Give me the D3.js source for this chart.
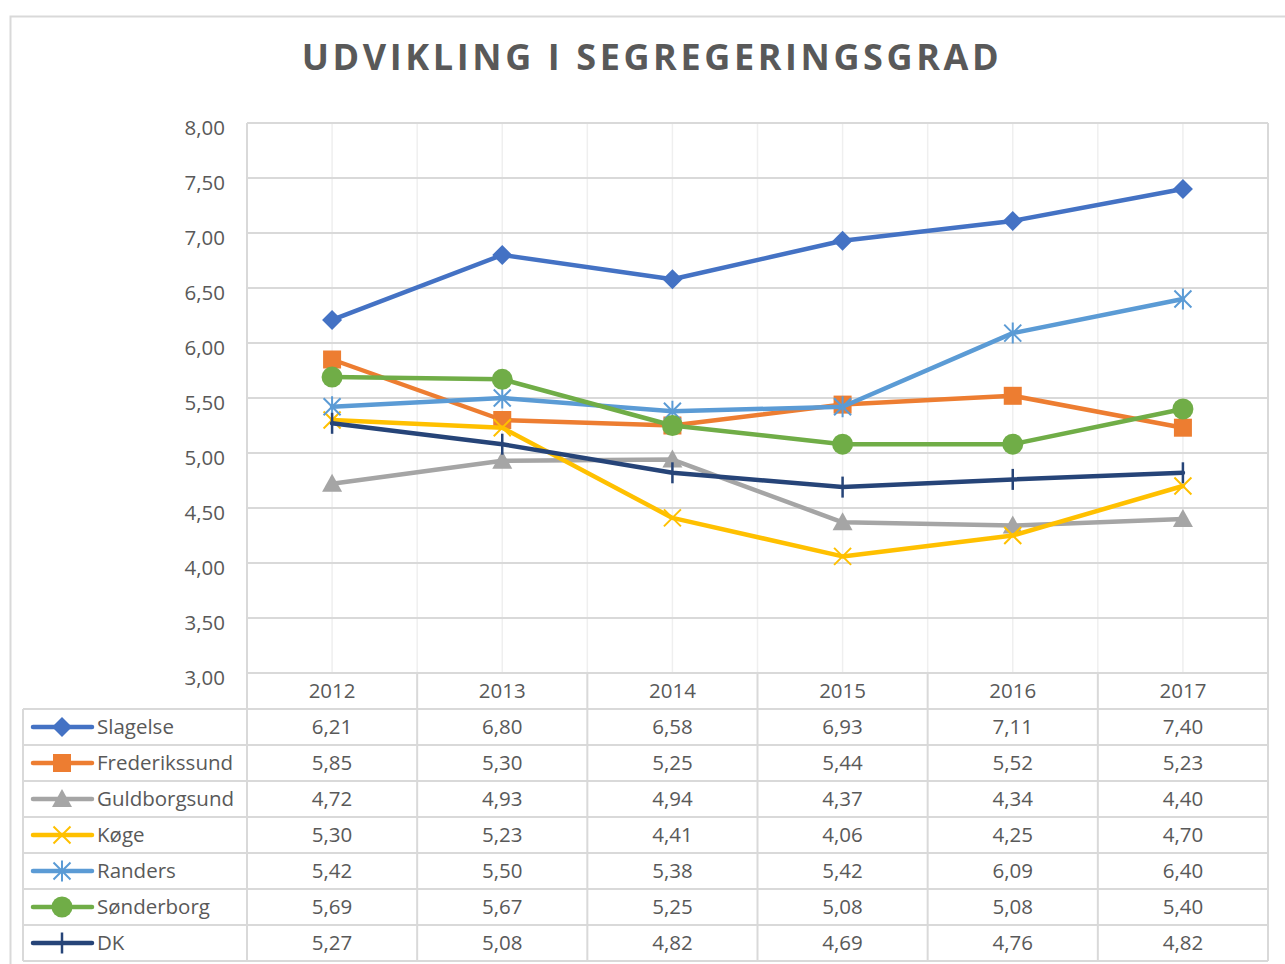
<!DOCTYPE html>
<html>
<head>
<meta charset="utf-8">
<script src="https://cdn.jsdelivr.net/npm/d3@7"></script>
<style>
	body { margin: 0; background: #fff; }
	svg { display: block; font-family: "Open Sans", sans-serif; }
</style>
</head>
<body>
<svg id="chart" width="1285" height="964"></svg>
<script>
// data
const years = ["2012", "2013", "2014", "2015", "2016", "2017"];
const names = ["Slagelse", "Frederikssund", "Guldborgsund", "Køge", "Randers", "Sønderborg", "DK"];
const slagelse = [6.21, 6.80, 6.58, 6.93, 7.11, 7.40];
const frederikssund = [5.85, 5.30, 5.25, 5.44, 5.52, 5.23];
const guldborgsund = [4.72, 4.93, 4.94, 4.37, 4.34, 4.40];
const koege = [5.30, 5.23, 4.41, 4.06, 4.25, 4.70];
const randers = [5.42, 5.50, 5.38, 5.42, 6.09, 6.40];
const soenderborg = [5.69, 5.67, 5.25, 5.08, 5.08, 5.40];
const dk = [5.27, 5.08, 4.82, 4.69, 4.76, 4.82];
const yTicks = [3, 3.5, 4, 4.5, 5, 5.5, 6, 6.5, 7, 7.5, 8];

const colors = ["#4472C4", "#ED7D31", "#A5A5A5", "#FFC000", "#5B9BD5", "#70AD47", "#264478"];
const shapes = ["diamond", "square", "triangle", "x", "star", "circle", "plus"];

const series = [slagelse, frederikssund, guldborgsund, koege, randers, soenderborg, dk]
	.map((values, i) => ({ name: names[i], values: values, color: colors[i], shape: shapes[i] }));

// danish number format
const locale = d3.formatLocale({ decimal: ",", thousands: ".", grouping: [3], currency: ["", " kr"] });
const fmt = locale.format(".2f");

// plot area
const plot = { left: 247, right: 1268, top: 123, bottom: 673 };
const rowH = 36;
const tableLeft = 23;
const textColor = "#595959";
const gridColor = "#d9d9d9";
const fontSize = 20.5;

const svg = d3.select("#chart");

// outer chart border
svg.append("rect")
.attr("x", 10.5)
.attr("y", 16.5)
.attr("width", 1300)
.attr("height", 1000)
.attr("fill", "#fff")
.attr("stroke", gridColor)
.attr("stroke-width", 2);

// title
svg.append("text")
.attr("x", 652)
.attr("y", 70)
.attr("text-anchor", "middle")
.attr("font-size", 36)
.attr("font-weight", "bold")
.attr("letter-spacing", 3.6)
.attr("fill", textColor)
.text("UDVIKLING I SEGREGERINGSGRAD");

const x = d3.scaleBand()
.domain(years)
.range([plot.left, plot.right])
.padding(0);

const cx = d => x(d) + x.bandwidth() / 2;

const y = d3.scaleLinear()
.domain([3, 8])
.range([plot.bottom, plot.top]);

// light vertical gridlines at category centres and boundaries
const vLines = [];
years.forEach(d => {
	vLines.push(cx(d));
	if (d !== years[0]) vLines.push(x(d));
});
svg.append("g")
.selectAll("line")
.data(vLines)
.enter()
.append("line")
.attr("x1", d => d)
.attr("x2", d => d)
.attr("y1", plot.top)
.attr("y2", plot.bottom)
.attr("stroke", "#efefef")
.attr("stroke-width", 1.5);

// horizontal gridlines
svg.append("g")
.selectAll("line")
.data(yTicks)
.enter()
.append("line")
.attr("x1", plot.left)
.attr("x2", plot.right)
.attr("y1", d => y(d))
.attr("y2", d => y(d))
.attr("stroke", gridColor)
.attr("stroke-width", 2);

// y axis labels
const yAxis = svg.append("g")
.attr("transform", "translate(" + plot.left + ",0)")
.call(d3.axisLeft(y).tickValues(yTicks).tickFormat(fmt).tickSize(0).tickPadding(22));
yAxis.select(".domain").remove();
yAxis.selectAll("text")
.attr("font-size", fontSize)
.attr("font-family", "Open Sans, sans-serif")
.attr("fill", textColor)
.attr("dy", "0.58em");

// plot left / right border
svg.append("g")
.selectAll("line")
.data([plot.left, plot.right])
.enter()
.append("line")
.attr("x1", d => d)
.attr("x2", d => d)
.attr("y1", plot.top)
.attr("y2", plot.bottom)
.attr("stroke", gridColor)
.attr("stroke-width", 2);

// data table
const tableBottom = plot.bottom + rowH * (series.length + 1);
const table = svg.append("g");

// horizontal rule lines of table
const rowLines = d3.range(1, series.length + 2).map(i => plot.bottom + rowH * i);
table.selectAll(".hrow")
.data(rowLines)
.enter()
.append("line")
.attr("class", "hrow")
.attr("x1", tableLeft)
.attr("x2", plot.right)
.attr("y1", d => d)
.attr("y2", d => d)
.attr("stroke", gridColor)
.attr("stroke-width", 2);

// vertical column lines
const colLines = years.map(d => x(d)).concat([plot.right]);
table.selectAll(".vcol")
.data(colLines)
.enter()
.append("line")
.attr("class", "vcol")
.attr("x1", d => d)
.attr("x2", d => d)
.attr("y1", plot.bottom)
.attr("y2", tableBottom)
.attr("stroke", gridColor)
.attr("stroke-width", 2);

table.append("line")
.attr("x1", tableLeft)
.attr("x2", tableLeft)
.attr("y1", plot.bottom + rowH)
.attr("y2", tableBottom)
.attr("stroke", gridColor)
.attr("stroke-width", 2);

// year header
table.selectAll(".year")
.data(years)
.enter()
.append("text")
.attr("class", "year")
.attr("x", d => cx(d))
.attr("y", plot.bottom + rowH / 2)
.attr("dy", "0.32em")
.attr("text-anchor", "middle")
.attr("font-size", fontSize)
.attr("fill", textColor)
.text(d => d);

// value cells
const rows = table.selectAll(".row")
.data(series)
.enter()
.append("g")
.attr("class", "row")
.attr("transform", (d, i) => "translate(0," + (plot.bottom + rowH * (i + 1) + rowH / 2) + ")");

rows.selectAll(".val")
.data(d => d.values)
.enter()
.append("text")
.attr("class", "val")
.attr("x", (d, i) => cx(years[i]))
.attr("dy", "0.32em")
.attr("text-anchor", "middle")
.attr("font-size", fontSize)
.attr("fill", textColor)
.text(d => fmt(d));

// legend keys
rows.append("line")
.attr("x1", 33)
.attr("x2", 92)
.attr("stroke", d => d.color)
.attr("stroke-width", 4.5)
.attr("stroke-linecap", "round");

rows.append("text")
.attr("x", 97)
.attr("dy", "0.32em")
.attr("font-size", fontSize)
.attr("fill", textColor)
.text(d => d.name);

// marker drawing
function drawMarker(g, shape, color, px, py) {
	const m = g.append("g").attr("transform", "translate(" + px + "," + py + ")");
	if (shape === "diamond") {
		m.append("path").attr("d", "M0,-10L10,0L0,10L-10,0Z").attr("fill", color);
	} else if (shape === "square") {
		m.append("rect").attr("x", -9).attr("y", -9).attr("width", 18).attr("height", 18).attr("fill", color);
	} else if (shape === "triangle") {
		m.append("path").attr("d", "M0,-10L10,8L-10,8Z").attr("fill", color);
	} else if (shape === "circle") {
		m.append("circle").attr("r", 10.5).attr("fill", color);
	} else if (shape === "x") {
		m.append("path").attr("d", "M-8.5,-8.5L8.5,8.5M-8.5,8.5L8.5,-8.5").attr("stroke", color).attr("stroke-width", 2);
	} else if (shape === "star") {
		m.append("path").attr("d", "M-8.5,-8.5L8.5,8.5M-8.5,8.5L8.5,-8.5M0,-10.5L0,10.5").attr("stroke", color).attr("stroke-width", 2);
	} else if (shape === "plus") {
		m.append("path").attr("d", "M0,-10.5L0,10.5").attr("stroke", color).attr("stroke-width", 2.5);
	}
}

rows.each(function(d) {
	drawMarker(d3.select(this), d.shape, d.color, 62, 0);
});

// lines
const line = d3.line()
.x((d, i) => cx(years[i]))
.y(d => y(d));

const lineG = svg.append("g");
series.forEach(s => {
	lineG.append("path")
	.datum(s.values)
	.attr("fill", "none")
	.attr("stroke", s.color)
	.attr("stroke-width", 4.5)
	.attr("stroke-linejoin", "round")
	.attr("stroke-linecap", "round")
	.attr("d", line);
	s.values.forEach((v, i) => drawMarker(lineG, s.shape, s.color, cx(years[i]), y(v)));
});
</script>
</body>
</html>
